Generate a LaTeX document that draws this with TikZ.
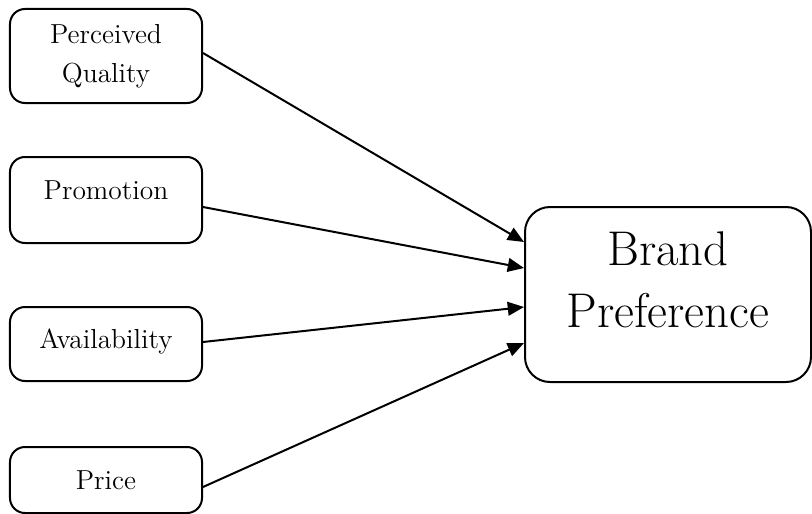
\documentclass[tikz,border=0pt]{standalone}
\usepackage{tikz}
\usetikzlibrary{arrows.meta}

\begin{document}
\begin{tikzpicture}[
    x=0.4pt, y=-0.4pt,
    every node/.style={font=\fontsize{11}{13}\selectfont},
    factor/.style={rectangle, draw, rounded corners=6pt, line width=0.8pt,
                   minimum width=76.8pt, align=center, inner sep=2pt},
    target/.style={rectangle, draw, rounded corners=10pt, line width=0.8pt,
                   minimum width=114.4pt, minimum height=70pt, align=center,
                   font=\fontsize{19.5}{22}\selectfont},
    arr/.style={-{Triangle[length=6.5pt, width=5.5pt]}, line width=0.8pt},
  ]
    \useasboundingbox (0,0) rectangle (812,513);
    \node[factor, minimum height=37.6pt] (qual) at (106, 56) {Perceived\\[2.5pt]Quality};
    \node[factor, minimum height=34.4pt, text depth=8pt] (promo) at (106, 200) {Promotion};
    \node[factor, minimum height=29.6pt, text depth=4pt] (avail) at (106, 344) {Availability};
    \node[factor, minimum height=26.4pt] (price) at (106, 480) {Price};
    \node[target, text depth=12pt] (pref) at (668, 294.5) {Brand\\[2.5pt]Preference};
    \foreach \src/\sy/\dy in {qual/1.2pt/21pt, promo/-2.8pt/10.6pt,
                              avail/0.8pt/-5pt, price/-2.8pt/-19.4pt}
      \draw[arr] ([yshift=\sy]\src.east) -- ([yshift=\dy]pref.west);
\end{tikzpicture}
\end{document}
